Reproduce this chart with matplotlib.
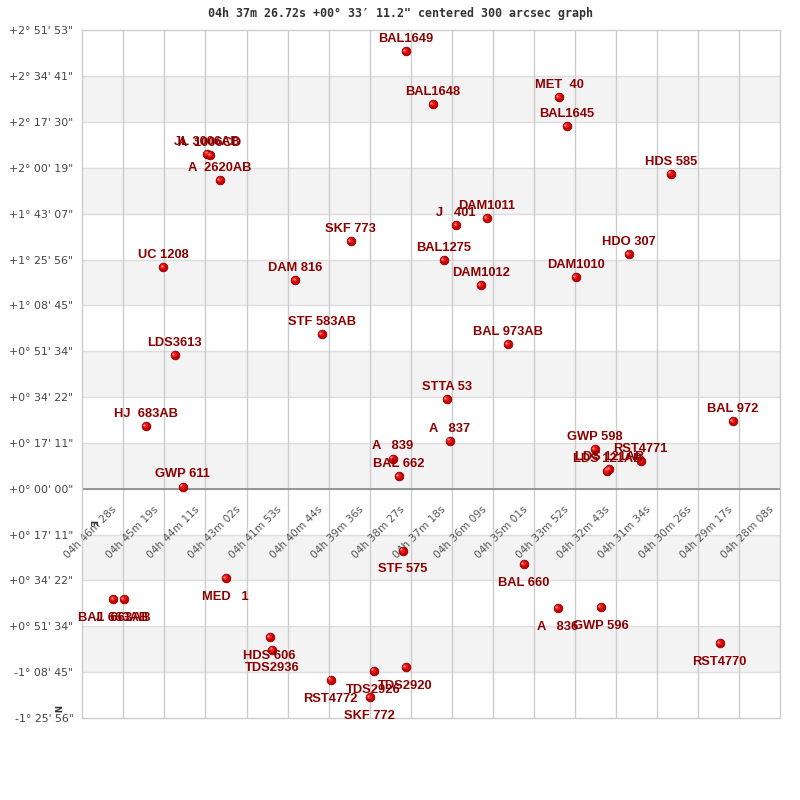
import matplotlib
matplotlib.use("Agg")
import matplotlib.pyplot as plt
from matplotlib.transforms import offset_copy

# ---- data: RA in seconds of time after 04h, Dec in arcsec ----
names = ["BAL1649", "BAL1648", "MET  40", "BAL1645", "HDS 585",
         "JL 3006AB", "A  1006CD", "A  2620AB", "SKF 773", "J   401",
         "DAM1011", "BAL1275", "DAM1012", "DAM1010", "HDO 307",
         "UC 1208", "DAM 816", "STF 583AB", "BAL 973AB", "LDS3613",
         "STTA 53", "HJ  683AB", "BAL 972", "A   837", "A   839",
         "BAL 662", "GWP 598", "RST4771", "LDS 121AB", "LDS 121AB",
         "GWP 611", "STF 575", "BAL 660", "MED   1", "BAL 663AB",
         "J  663AB", "A   836", "GWP 596", "RST4770", "HDS 606",
         "TDS2936", "RST4772", "TDS2926", "TDS2920", "SKF 772"]
ra = [2315.3, 2270.0, 2058.6, 2045.7, 1871.5,
      2647.5, 2642.9, 2626.2, 2407.3, 2231.0,
      2179.6, 2251.6, 2189.7, 2030.6, 1941.9,
      2721.1, 2500.1, 2455.9, 2144.5, 2702.0,
      2246.6, 2750.6, 1767.7, 2241.9, 2337.0,
      2326.5, 1998.3, 1921.8, 1977.4, 1974.0,
      2688.6, 2320.3, 2117.7, 2616.6, 2804.8,
      2787.4, 2060.8, 1988.8, 1789.5, 2543.0,
      2538.6, 2440.8, 2368.8, 2315.3, 2375.8]
dec = [9838, 8647, 8804, 8152, 7082,
       7531, 7500, 6938, 5566, 5926,
       6084, 5139, 4577, 4757, 5274,
       4982, 4690, 3476, 3251, 3004,
       2014, 1407, 1520, 1075, 674,
       283, 884, 625, 400, 434,
       45, -1394, -1695, -2010, -2489,
       -2489, -2684, -2662, -3471, -3336,
       -3620, -4299, -4096, -4011, -4685]

xtick_labels = ["04h 46m 28s", "04h 45m 19s", "04h 44m 11s", "04h 43m 02s",
                "04h 41m 53s", "04h 40m 44s", "04h 39m 36s", "04h 38m 27s",
                "04h 37m 18s", "04h 36m 09s", "04h 35m 01s", "04h 33m 52s",
                "04h 32m 43s", "04h 31m 34s", "04h 30m 26s", "04h 29m 17s",
                "04h 28m 08s"]
ytick_labels = ["+2° 51' 53\"", "+2° 34' 41\"", "+2° 17' 30\"", "+2° 00' 19\"",
                "+1° 43' 07\"", "+1° 25' 56\"", "+1° 08' 45\"", "+0° 51' 34\"",
                "+0° 34' 22\"", "+0° 17' 11\"", "+0° 00' 00\"", "+0° 17' 11\"",
                "+0° 34' 22\"", "+0° 51' 34\"", "-1° 08' 45\"", "-1° 25' 56\""]
title = "04h 37m 26.72s +00° 33′ 11.2\" centered 300 arcsec graph"

step_ra = 68.75
step_dec = 1031.25
ra_first_tick = 2788.0
xt = [ra_first_tick - step_ra * i for i in range(len(xtick_labels))]
yt = [step_dec * (10 - i) for i in range(len(ytick_labels))]

fig = plt.figure(figsize=(8, 8), dpi=100)
ax = fig.add_axes([82.3 / 800, 1 - 718 / 800, (780.3 - 82.3) / 800, (718 - 30.3) / 800])
ax.set_xlim(ra_first_tick + step_ra, xt[-1])
ax.set_ylim(yt[-1], yt[0])

# bands
for i in range(len(yt) - 1):
    if i % 2 == 1:
        ax.axhspan(yt[i + 1], yt[i], color="#f3f3f3", lw=0, zorder=0)
for y in yt[1:-1]:
    ax.axhline(y, color="#dddddd", lw=1, zorder=1)
for x in xt[:-1]:
    ax.axvline(x, color="#cccccc", lw=1, zorder=1)
ax.axhline(0, color="#888888", lw=1.2, zorder=1.5)

for s in ax.spines.values():
    s.set_color("#cccccc")
    s.set_linewidth(1)

ax.set_xticks([])
ax.set_yticks(yt)
ax.set_yticklabels(ytick_labels, family="DejaVu Sans", fontsize=7.9, color="#444444")
ax.tick_params(axis="y", length=0, pad=6.5)

# x tick labels rotated
tr = offset_copy(ax.transData, fig=fig, x=-8, y=-19, units="dots")
for x, lab in zip(xt, xtick_labels):
    ax.text(x, 0, lab, transform=tr, rotation=45, rotation_mode="anchor",
            ha="right", va="center", family="DejaVu Sans", fontsize=7.6,
            color="#555555", zorder=2)

# stars
ax.scatter(ra, dec, s=40, c="#c80000", edgecolors="#7a0000", linewidths=0.5, zorder=3)
hl = offset_copy(ax.transData, fig=fig, x=-1.0, y=1.0, units="dots")
ax.scatter(ra, dec, s=14, c="#ee1a1a", linewidths=0, zorder=4, transform=hl)
hl2 = offset_copy(ax.transData, fig=fig, x=-1.5, y=1.5, units="dots")
ax.scatter(ra, dec, s=2.5, c="#ff9090", linewidths=0, zorder=5, transform=hl2)

for n, x, y in zip(names, ra, dec):
    if y > 0:
        off = (0, 6.7)
    else:
        off = (0, -15.6)
    ax.annotate(n, (x, y), xytext=off, textcoords="offset points",
                ha="center", va="baseline", family="Liberation Sans",
                fontweight="bold", fontsize=9.3, color="#8b0000", zorder=6,
                annotation_clip=False)

fig.text(0.5, 1 - 13 / 800, title, ha="center", va="center",
         family="DejaVu Sans Mono", fontweight="bold", fontsize=8.4, color="#333333")
fig.text(91.7 / 800, 1 - 522.7 / 800, "E", rotation=-90, ha="center", va="center",
         family="DejaVu Sans", fontweight="bold", fontsize=6.2, color="#333333")
fig.text(56 / 800, 1 - 708.5 / 800, "N", rotation=-90, ha="center", va="center",
         family="DejaVu Sans", fontweight="bold", fontsize=6.2, color="#333333")

fig.savefig("out.png", dpi=100)
